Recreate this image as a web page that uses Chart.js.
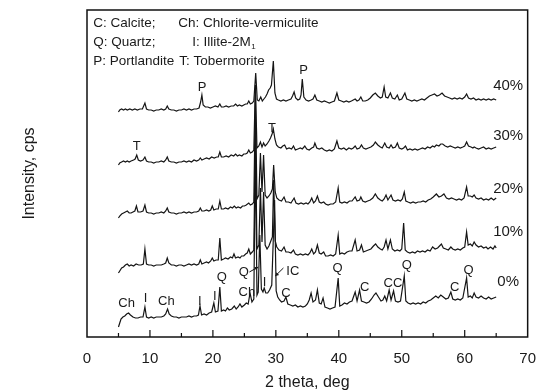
<!DOCTYPE html>
<html>
<head>
<meta charset="utf-8">
<script src="https://cdn.jsdelivr.net/npm/chart.js@4.4.1/dist/chart.umd.min.js"></script>
<style>
  html, body { margin: 0; padding: 0; background: #fff; }
  #wrap { width: 541px; height: 392px; }
</style>
</head>
<body>
<div id="wrap"><canvas id="xrd"></canvas></div>
<script>
// XRD patterns, 2 theta (deg) vs stacked intensity (arbitrary, offset per sample)
var seriesNames = ['0%', '10%', '20%', '30%', '40%'];

var xrd0 = [[5.0,10],[5.2,14],[5.4,18],[5.7,20],[6.0,21],[6.3,23],[6.6,24],[6.9,22],[7.3,20],[7.7,19],[8.1,19],[8.5,20],[8.9,20],[9.2,30],[9.45,20],[9.8,19],[10.2,20],[10.6,19],[11.0,20],[11.4,20],[11.8,20],[12.2,21],[12.5,23],[12.8,28],[13.05,23],[13.4,21],[13.8,20],[14.2,20],[14.6,19],[15.0,20],[15.4,20],[15.8,20],[16.2,21],[16.6,20],[17.0,21],[17.4,21],[17.7,22],[17.95,31],[18.2,22],[18.6,23],[19.0,22],[19.4,24],[19.8,25],[20.15,34],[20.4,25],[20.8,26],[21.1,50],[21.35,26],[21.7,27],[22.0,26],[22.3,29],[22.6,27],[23.0,28],[23.4,31],[23.7,28],[24.0,30],[24.3,33],[24.6,30],[25.0,32],[25.3,34],[25.6,33],[25.9,44],[26.2,35],[26.5,38],[26.75,187],[27.0,42],[27.2,45],[27.45,102],[27.7,48],[27.95,45],[28.15,49],[28.4,44],[28.7,44],[29.0,47],[29.35,52],[29.8,137],[30.05,46],[30.3,40],[30.6,37],[30.9,35],[31.3,36],[31.6,40],[31.9,33],[32.3,32],[32.7,31],[33.1,32],[33.5,30],[33.9,31],[34.3,30],[34.7,31],[35.0,33],[35.3,37],[35.6,44],[35.9,35],[36.3,37],[36.6,47],[36.9,34],[37.2,33],[37.5,39],[37.8,30],[38.2,29],[38.6,28],[39.0,29],[39.4,30],[39.9,59],[40.15,31],[40.5,32],[40.9,34],[41.3,33],[41.7,35],[42.1,36],[42.6,45],[42.9,36],[43.3,47],[43.6,36],[44.0,35],[44.4,34],[44.8,35],[45.2,38],[45.6,42],[45.9,44],[46.3,40],[46.7,36],[47.0,37],[47.3,41],[47.6,36],[48.0,47],[48.3,37],[48.7,46],[49.0,36],[49.4,35],[49.8,36],[50.4,61],[50.65,36],[51.0,34],[51.4,33],[51.8,34],[52.2,33],[52.6,34],[53.0,33],[53.4,35],[53.8,34],[54.2,36],[54.6,37],[55.0,39],[55.4,41],[55.8,39],[56.2,42],[56.6,40],[57.0,38],[57.4,39],[57.8,45],[58.1,38],[58.5,37],[58.9,38],[59.3,37],[59.7,39],[60.3,59],[60.55,40],[60.9,41],[61.2,39],[61.5,44],[61.8,40],[62.2,39],[62.6,41],[63.0,39],[63.4,38],[63.8,40],[64.2,38],[64.6,39],[65.0,40]];

var xrd10 = [[5.0,64],[5.2,66],[5.5,69],[5.8,70],[6.1,72],[6.4,73],[6.7,71],[7.0,72],[7.4,71],[7.8,73],[8.2,72],[8.6,72],[8.95,73],[9.2,88],[9.45,73],[9.8,72],[10.2,72],[10.6,71],[11.0,72],[11.4,72],[11.8,72],[12.2,73],[12.5,74],[12.75,79],[13.0,74],[13.4,72],[13.8,72],[14.2,71],[14.6,72],[15.0,72],[15.4,71],[15.8,72],[16.2,73],[16.6,72],[17.0,73],[17.4,72],[17.75,73],[18.0,77],[18.25,73],[18.6,74],[19.0,75],[19.3,74],[19.65,76],[19.9,79],[20.15,76],[20.5,77],[20.85,77],[21.1,99],[21.35,77],[21.7,78],[22.0,79],[22.4,78],[22.8,80],[23.1,79],[23.35,83],[23.6,79],[24.0,80],[24.3,79],[24.55,81],[24.9,81],[25.2,83],[25.45,84],[25.7,88],[25.95,83],[26.25,85],[26.5,87],[26.75,207],[27.0,88],[27.3,92],[27.55,149],[27.8,95],[28.05,145],[28.3,92],[28.6,88],[28.9,91],[29.2,96],[29.45,100],[29.65,157],[29.9,96],[30.15,90],[30.5,87],[30.9,86],[31.3,90],[31.6,85],[32.0,85],[32.4,84],[32.8,87],[33.1,83],[33.5,82],[33.9,83],[34.3,82],[34.7,83],[35.1,82],[35.4,84],[35.7,88],[36.0,83],[36.3,85],[36.6,92],[36.9,84],[37.2,83],[37.6,85],[37.9,81],[38.3,81],[38.7,82],[39.1,81],[39.5,83],[39.9,102],[40.15,83],[40.5,84],[40.9,83],[41.3,85],[41.7,86],[42.1,86],[42.6,97],[42.9,86],[43.3,87],[43.6,92],[43.9,85],[44.3,86],[44.7,87],[45.1,88],[45.5,91],[45.85,93],[46.2,90],[46.6,88],[46.9,87],[47.2,90],[47.5,97],[47.8,88],[48.2,97],[48.5,88],[48.9,86],[49.3,87],[49.7,86],[50.0,88],[50.3,114],[50.55,87],[50.9,85],[51.3,84],[51.7,85],[52.1,84],[52.5,86],[52.9,85],[53.3,86],[53.7,85],[54.1,87],[54.5,86],[54.9,90],[55.3,88],[55.7,89],[56.0,91],[56.3,93],[56.6,89],[57.0,88],[57.4,87],[57.8,90],[58.1,88],[58.5,87],[58.9,88],[59.3,87],[59.7,89],[60.0,90],[60.3,105],[60.55,92],[60.9,93],[61.2,91],[61.5,95],[61.8,92],[62.2,90],[62.6,91],[63.0,89],[63.4,90],[63.7,88],[64.1,90],[64.5,88],[64.8,91],[65.0,89]];

var xrd20 = [[5.0,119],[5.2,121],[5.5,123],[5.8,124],[6.1,125],[6.4,126],[6.7,124],[7.0,124],[7.3,125],[7.6,126],[7.85,131],[8.1,125],[8.5,125],[8.9,126],[9.2,132],[9.45,125],[9.8,124],[10.2,124],[10.6,123],[11.0,124],[11.4,124],[11.8,125],[12.2,124],[12.5,126],[12.75,129],[13.0,125],[13.4,124],[13.8,124],[14.2,123],[14.6,124],[15.0,124],[15.4,125],[15.8,124],[16.2,125],[16.6,124],[17.0,125],[17.4,125],[17.75,126],[18.0,129],[18.25,126],[18.6,126],[19.0,127],[19.35,126],[19.65,127],[19.9,131],[20.15,127],[20.5,128],[20.85,128],[21.1,136],[21.35,128],[21.7,128],[22.0,129],[22.4,128],[22.8,130],[23.1,129],[23.4,131],[23.7,129],[24.0,130],[24.4,129],[24.7,131],[25.0,131],[25.3,132],[25.7,134],[25.95,132],[26.25,133],[26.5,135],[26.75,242],[27.0,138],[27.3,142],[27.55,184],[27.8,145],[28.05,182],[28.3,142],[28.6,139],[28.9,141],[29.2,144],[29.45,148],[29.65,172],[29.9,145],[30.15,139],[30.5,137],[30.9,136],[31.3,140],[31.6,135],[32.0,135],[32.4,134],[32.9,139],[33.2,134],[33.6,133],[34.0,134],[34.4,133],[34.8,134],[35.1,133],[35.4,135],[35.7,139],[36.0,134],[36.3,136],[36.6,141],[36.9,135],[37.2,134],[37.6,135],[37.9,133],[38.3,132],[38.7,133],[39.1,133],[39.5,135],[39.9,149],[40.15,135],[40.5,134],[40.9,135],[41.3,134],[41.7,136],[42.1,136],[42.6,140],[42.9,136],[43.3,137],[43.5,140],[43.8,136],[44.2,135],[44.6,136],[45.0,137],[45.4,139],[45.8,143],[46.2,139],[46.6,137],[46.9,136],[47.2,138],[47.5,142],[47.8,137],[48.3,142],[48.6,137],[49.0,136],[49.4,137],[49.8,136],[50.1,138],[50.4,145],[50.65,136],[51.0,135],[51.4,134],[51.8,135],[52.2,134],[52.6,135],[53.0,135],[53.4,136],[53.8,135],[54.2,137],[54.6,138],[55.0,140],[55.5,143],[55.9,140],[56.3,141],[56.7,143],[57.1,139],[57.5,138],[57.9,139],[58.3,138],[58.7,137],[59.1,138],[59.5,137],[59.9,139],[60.3,150],[60.55,141],[60.9,141],[61.2,140],[61.5,142],[61.8,139],[62.2,138],[62.6,139],[63.0,137],[63.4,138],[63.8,137],[64.2,139],[64.6,137],[65.0,139]];

var xrd30 = [[5.0,172],[5.2,174],[5.5,175],[5.8,176],[6.1,175],[6.4,176],[6.7,175],[7.0,176],[7.4,177],[7.65,178],[7.9,182],[8.15,177],[8.5,176],[8.9,177],[9.2,180],[9.45,176],[9.8,175],[10.2,175],[10.6,174],[11.0,175],[11.4,175],[11.8,176],[12.2,175],[12.5,177],[12.75,180],[13.0,176],[13.4,175],[13.8,175],[14.2,174],[14.6,175],[15.0,175],[15.4,176],[15.8,175],[16.2,176],[16.6,175],[17.0,177],[17.4,176],[17.75,177],[18.0,179],[18.25,177],[18.6,178],[19.0,179],[19.4,178],[19.8,180],[20.2,179],[20.6,180],[20.85,180],[21.1,185],[21.35,180],[21.7,180],[22.1,181],[22.5,180],[22.9,182],[23.3,181],[23.6,183],[23.9,181],[24.2,182],[24.6,181],[24.9,183],[25.2,183],[25.45,184],[25.7,187],[25.95,184],[26.25,185],[26.5,187],[26.75,252],[27.0,189],[27.3,191],[27.55,195],[27.8,190],[28.05,194],[28.3,191],[28.6,193],[28.9,196],[29.15,199],[29.4,203],[29.6,208],[29.85,198],[30.1,192],[30.4,190],[30.8,189],[31.1,191],[31.4,192],[31.7,188],[32.1,189],[32.5,188],[32.8,191],[33.1,187],[33.5,188],[33.9,189],[34.2,188],[34.6,191],[34.9,188],[35.3,187],[35.7,189],[36.0,190],[36.2,194],[36.5,189],[36.9,188],[37.3,189],[37.7,187],[38.1,186],[38.5,187],[38.9,186],[39.3,188],[39.7,196],[40.0,189],[40.4,188],[40.8,189],[41.2,187],[41.6,189],[42.0,188],[42.3,189],[42.6,191],[42.9,188],[43.3,189],[43.6,192],[43.9,189],[44.3,188],[44.7,189],[45.1,190],[45.5,192],[45.8,195],[46.2,192],[46.6,190],[46.9,189],[47.3,194],[47.6,190],[48.0,189],[48.3,192],[48.6,189],[49.0,190],[49.3,194],[49.6,189],[50.0,188],[50.3,189],[50.6,191],[50.9,187],[51.3,188],[51.7,187],[52.1,188],[52.5,187],[52.9,188],[53.3,189],[53.7,188],[54.1,190],[54.5,189],[54.9,191],[55.2,190],[55.5,192],[55.9,191],[56.2,193],[56.5,193],[56.9,191],[57.3,190],[57.7,191],[58.1,190],[58.5,189],[58.9,190],[59.3,189],[59.7,190],[60.0,191],[60.3,195],[60.6,191],[61.0,190],[61.3,189],[61.5,190],[61.8,189],[62.2,188],[62.6,189],[63.0,190],[63.4,188],[63.8,189],[64.2,188],[64.6,189],[65.0,190]];

var xrd40 = [[5.0,225],[5.2,227],[5.5,228],[5.8,227],[6.1,228],[6.4,227],[6.8,228],[7.2,227],[7.6,228],[8.0,227],[8.4,228],[8.8,228],[9.2,234],[9.45,228],[9.8,227],[10.2,227],[10.6,226],[11.0,227],[11.4,227],[11.8,228],[12.2,227],[12.5,228],[12.75,231],[13.0,228],[13.4,227],[13.8,227],[14.2,226],[14.6,227],[15.0,227],[15.4,228],[15.8,227],[16.2,228],[16.6,227],[17.0,228],[17.4,228],[17.8,229],[18.05,235],[18.25,242],[18.45,232],[18.8,230],[19.2,230],[19.6,229],[20.0,230],[20.4,231],[20.8,230],[21.1,233],[21.35,230],[21.7,230],[22.1,231],[22.5,230],[22.9,231],[23.3,231],[23.6,233],[23.9,231],[24.2,232],[24.6,231],[24.9,232],[25.2,233],[25.45,233],[25.7,236],[25.95,233],[26.25,234],[26.5,236],[26.8,264],[27.05,237],[27.3,236],[27.6,240],[27.85,236],[28.1,238],[28.35,240],[28.6,243],[28.85,247],[29.1,249],[29.3,252],[29.6,276],[29.85,244],[30.1,238],[30.4,237],[30.8,236],[31.2,237],[31.6,236],[32.0,237],[32.4,238],[32.65,241],[32.9,245],[33.15,239],[33.5,237],[33.8,238],[34.0,242],[34.2,258],[34.45,240],[34.8,237],[35.2,236],[35.6,237],[35.9,238],[36.2,242],[36.5,237],[36.9,236],[37.3,235],[37.7,236],[38.1,235],[38.5,234],[38.9,235],[39.3,236],[39.7,244],[40.0,237],[40.4,236],[40.8,235],[41.2,236],[41.6,235],[42.0,236],[42.3,237],[42.6,238],[42.9,236],[43.2,237],[43.5,240],[43.8,236],[44.2,236],[44.6,237],[45.0,239],[45.4,242],[45.8,244],[46.2,241],[46.6,239],[46.9,240],[47.2,250],[47.45,240],[47.8,239],[48.2,244],[48.5,239],[48.9,238],[49.3,242],[49.6,237],[50.0,238],[50.5,244],[50.8,238],[51.2,237],[51.6,236],[52.0,237],[52.4,236],[52.8,237],[53.2,238],[53.6,237],[54.0,239],[54.4,241],[54.8,242],[55.2,243],[55.6,241],[56.0,242],[56.4,244],[56.8,241],[57.2,240],[57.6,239],[58.0,238],[58.4,239],[58.8,238],[59.2,239],[59.6,238],[60.0,240],[60.3,243],[60.6,239],[61.0,238],[61.4,239],[61.8,237],[62.2,238],[62.6,237],[63.0,238],[63.4,237],[63.8,238],[64.2,237],[64.6,238],[65.0,237]];

var xTicks = [0, 10, 20, 30, 40, 50, 60, 70];

// phase labels on the patterns: text, 2theta, intensity
var peakLabels = [
  ['P', 18.3, 250], ['P', 34.4, 267],
  ['T', 7.9, 191], ['T', 29.4, 209],
  ['Ch', 6.3, 34], ['I', 9.3, 39], ['Ch', 12.6, 36], ['I', 17.9, 36], ['I', 20.3, 41],
  ['Q', 21.4, 60], ['Ch', 25.4, 45], ['Q', 24.9, 65], ['I', 28.2, 55], ['IC', 32.7, 66],
  ['C', 31.6, 44], ['Q', 39.8, 69], ['C', 44.1, 50], ['CC', 48.6, 54], ['Q', 50.8, 72],
  ['C', 58.4, 50], ['Q', 60.6, 67]
];
// arrows: from (2theta, I) to (2theta, I)
var arrows = [[25.8, 65, 27.2, 70], [31.2, 69, 29.9, 61]];
// sample labels at the right end of each pattern
var sampleLabelPos = [[66.9, 55], [66.9, 105], [66.9, 148], [66.9, 201], [66.9, 251]];

var legendLines = [
  ['C: Calcite;', 1.0, 314], ['Ch: Chlorite-vermiculite', 14.5, 314],
  ['Q: Quartz;', 1.0, 295], ['I: Illite-2M', 16.7, 295, '1'],
  ['P: Portlandite', 1.0, 276], ['T: Tobermorite', 14.65, 276]
];

var FONT = '"Liberation Sans", Arial, sans-serif';
var patterns = [xrd0, xrd10, xrd20, xrd30, xrd40];

var datasets = patterns.map(function(p, i) {
  return {
    label: seriesNames[i],
    data: p.map(function(d) { return { x: d[0], y: d[1] }; }),
    borderColor: '#151515',
    borderWidth: 1.2,
    pointRadius: 0,
    tension: 0,
    fill: false
  };
});

var decorations = {
  id: 'decorations',
  afterDraw: function(chart) {
    var ctx = chart.ctx;
    var a = chart.chartArea;
    var xs = chart.scales.x, ys = chart.scales.y;
    ctx.save();
    // frame
    ctx.strokeStyle = '#111';
    ctx.lineWidth = 1.5;
    ctx.strokeRect(a.left, a.top, a.right - a.left, a.bottom - a.top);
    // inner ticks on the bottom axis
    ctx.lineWidth = 1.2;
    ctx.beginPath();
    for (var i = 0; i < xTicks.length; i++) {
      var px = xs.getPixelForValue(xTicks[i]);
      if (i > 0 && i < xTicks.length - 1) {
        ctx.moveTo(px, a.bottom); ctx.lineTo(px, a.bottom - 7);
      }
      if (i < xTicks.length - 1) {
        var pm = xs.getPixelForValue((xTicks[i] + xTicks[i + 1]) / 2);
        ctx.moveTo(pm, a.bottom); ctx.lineTo(pm, a.bottom - 4);
      }
    }
    ctx.stroke();

    ctx.fillStyle = '#1a1a1a';
    ctx.textBaseline = 'middle';
    ctx.textAlign = 'center';
    ctx.font = '13px ' + FONT;
    peakLabels.forEach(function(l) {
      ctx.fillText(l[0], xs.getPixelForValue(l[1]), ys.getPixelForValue(l[2]));
    });

    ctx.lineWidth = 1;
    arrows.forEach(function(r) {
      var x1 = xs.getPixelForValue(r[0]), y1 = ys.getPixelForValue(r[1]);
      var x2 = xs.getPixelForValue(r[2]), y2 = ys.getPixelForValue(r[3]);
      var ang = Math.atan2(y2 - y1, x2 - x1);
      ctx.beginPath();
      ctx.moveTo(x1, y1); ctx.lineTo(x2, y2);
      ctx.stroke();
      ctx.beginPath();
      ctx.moveTo(x2, y2);
      ctx.lineTo(x2 - 4 * Math.cos(ang - 0.5), y2 - 4 * Math.sin(ang - 0.5));
      ctx.lineTo(x2 - 4 * Math.cos(ang + 0.5), y2 - 4 * Math.sin(ang + 0.5));
      ctx.closePath();
      ctx.fill();
    });

    ctx.font = '15px ' + FONT;
    seriesNames.forEach(function(n, i) {
      var p = sampleLabelPos[i];
      ctx.fillText(n, xs.getPixelForValue(p[0]), ys.getPixelForValue(p[1]));
    });

    ctx.textAlign = 'left';
    ctx.font = '13.5px ' + FONT;
    legendLines.forEach(function(l) {
      var lx = xs.getPixelForValue(l[1]), ly = ys.getPixelForValue(l[2]);
      ctx.fillText(l[0], lx, ly);
      if (l[3]) {
        var w = ctx.measureText(l[0]).width;
        ctx.font = '8px ' + FONT;
        ctx.fillText(l[3], lx + w + 0.5, ly + 5);
        ctx.font = '13.5px ' + FONT;
      }
    });
    ctx.restore();
  }
};

new Chart(document.getElementById('xrd'), {
  type: 'line',
  data: { datasets: datasets },
  options: {
    responsive: true,
    maintainAspectRatio: false,
    animation: false,
    layout: { padding: { top: 10, right: 9, left: 0, bottom: 0 } },
    plugins: { legend: { display: false }, tooltip: { enabled: false } },
    scales: {
      x: {
        type: 'linear',
        min: 0, max: 70,
        afterBuildTicks: function(s) { s.ticks = xTicks.map(function(v) { return { value: v }; }); },
        afterFit: function(s) { s.height = 55; },
        grid: { display: false },
        border: { display: false },
        ticks: { color: '#1a1a1a', padding: 5, maxRotation: 0, font: { size: 15, family: FONT } },
        title: { display: true, text: '2 theta, deg', color: '#1a1a1a', padding: { top: 0, bottom: 0 }, font: { size: 16, family: FONT } }
      },
      y: {
        min: 0, max: 327,
        afterFit: function(s) { s.width = 87; },
        grid: { display: false },
        border: { display: false },
        ticks: { display: false },
        title: { display: true, text: 'Intensity, cps', color: '#1a1a1a', padding: { top: 20, bottom: 0 }, font: { size: 16, family: FONT } }
      }
    }
  },
  plugins: [decorations]
});
</script>
</body>
</html>
